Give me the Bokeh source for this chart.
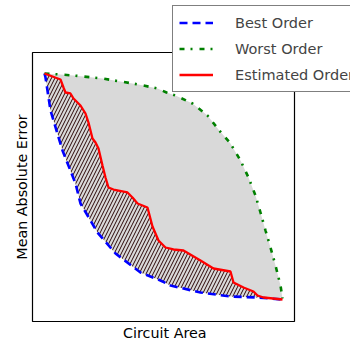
import math
from bokeh.plotting import figure
from bokeh.models import Legend, LegendItem, Range1d, Label
from bokeh.embed import file_html
from bokeh.resources import INLINE

# data (normalized units)
best_x = [4.58, 4.96, 6.87, 11.45, 16.41, 18.32, 24.81, 31.68, 41.22, 48.85, 52.67, 64.12, 75.57, 85.88, 95.42]
best_y = [92.19, 90.71, 78.44, 63.57, 51.30, 43.87, 33.09, 25.28, 18.22, 15.24, 13.38, 10.78, 9.29, 8.92, 8.18]

est_x = [4.58, 10.69, 11.83, 12.60, 14.50, 15.65, 18.32, 20.23, 21.37, 22.90, 24.05, 25.19, 26.72,
         27.86, 29.01, 30.92, 36.26, 38.17, 40.08, 43.89, 45.80, 48.09, 50.76, 53.82, 57.63,
         64.12, 69.08, 75.57, 76.72, 80.53, 84.35, 85.88, 88.17, 95.42]
est_y = [92.19, 89.96, 86.99, 85.13, 84.76, 82.90, 80.30, 77.32, 73.98, 68.03, 66.54, 64.31, 57.99,
         53.53, 49.81, 49.07, 47.96, 46.10, 43.87, 42.38, 35.32, 30.11, 27.51, 26.77, 26.39,
         22.68, 19.70, 18.59, 14.50, 12.64, 11.15, 9.67, 8.92, 8.18]

worst_x = [4.58, 10.69, 15.65, 26.72, 33.59, 40.46, 47.71, 51.15, 54.58, 61.07, 66.79, 70.99, 75.57,
           79.39, 82.44, 85.11, 87.02, 88.93, 90.84, 92.75, 94.66, 95.42]
worst_y = [92.19, 91.82, 91.45, 90.33, 89.22, 88.10, 86.62, 85.13, 84.01, 81.04, 76.58, 71.38, 66.17,
           59.85, 53.53, 46.84, 40.52, 33.83, 27.51, 20.82, 13.38, 8.55]

labels = ["Best Order", "Worst Order", "Estimated Order"]
x_label = "Circuit Area"
y_label = "Mean Absolute Error"
FONT = "DejaVu Sans"

W, H = 350, 341
# axes box in pixels: left 32, right 294, top 52, bottom 321 -> data 0..100
sx, sy = 2.62, 2.69
p = figure(width=W, height=H, output_backend="svg", toolbar_location=None,
           x_range=Range1d(-32 / sx, (W - 32) / sx),
           y_range=Range1d(-(H - 321) / sy, 100 + 52 / sy),
           min_border=0)
p.axis.visible = False
p.grid.visible = False
p.outline_line_color = None
p.background_fill_color = "white"
p.border_fill_color = "white"

# gray area between worst and best
p.patch(worst_x + best_x[::-1], worst_y + best_y[::-1], fill_color="#d9d9d9", line_color=None)
# hatched area between estimated and best
p.patch(est_x + best_x[::-1], est_y + best_y[::-1], fill_alpha=0, line_color=None,
        hatch_pattern="/", hatch_color="#2a0505", hatch_scale=7, hatch_weight=1)

r_best = p.line(best_x, best_y, line_color="blue", line_width=2.6, line_dash="8 5")
r_worst = p.line(worst_x, worst_y, line_color="green", line_width=2.6, line_dash="5 6 2 7")
r_est = p.line(est_x, est_y, line_color="red", line_width=2.3)

# axes frame
p.quad(left=[0], right=[100], bottom=[0], top=[100], fill_color=None,
       line_color="black", line_width=1.2)

p.add_layout(Label(x=50.5, y=1, x_units="data", y_units="screen", text=x_label,
                   text_align="center", text_baseline="bottom",
                   text_font=FONT, text_font_size="14.3px", text_color="black"))
p.add_layout(Label(x=29.5, y=50, x_units="screen", y_units="data", text=y_label,
                   angle=math.pi / 2, text_align="center", text_baseline="bottom",
                   text_font=FONT, text_font_size="14.3px", text_color="black"))

legend = Legend(items=[LegendItem(label=labels[0], renderers=[r_best]),
                       LegendItem(label=labels[1], renderers=[r_worst]),
                       LegendItem(label=labels[2], renderers=[r_est])],
                location=(172, 249))
legend.border_line_color = "black"
legend.border_line_width = 1.2
legend.background_fill_color = "white"
legend.background_fill_alpha = 1
legend.label_text_font = FONT
legend.label_text_font_size = "14.5px"
legend.glyph_width = 34
legend.glyph_height = 21
legend.label_height = 21
legend.spacing = 5
legend.padding = 6
legend.label_standoff = 22
legend.margin = 0
p.add_layout(legend)

open("out.html", "w").write(file_html(p, INLINE))
